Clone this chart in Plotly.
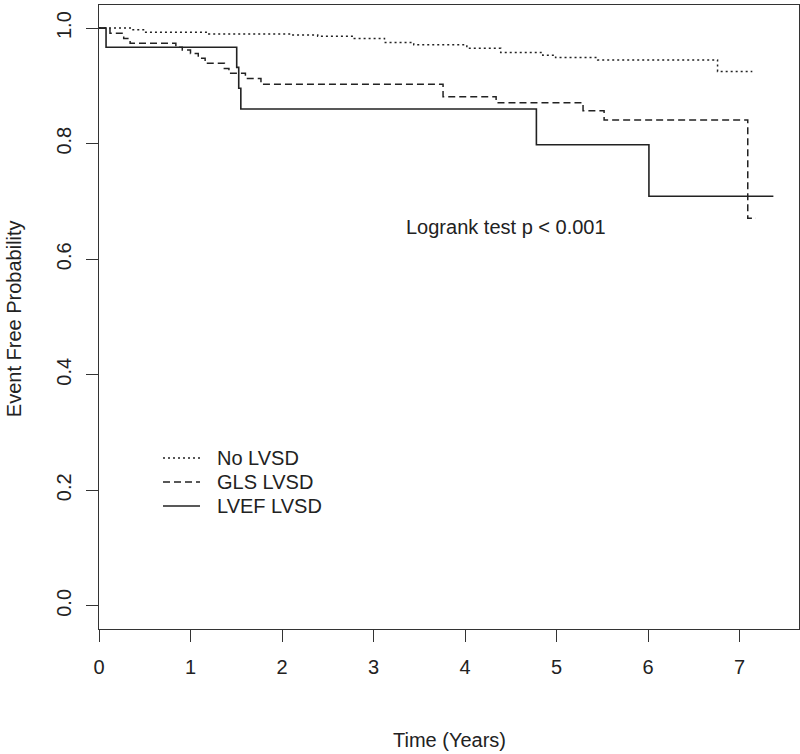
import plotly.graph_objects as go

# Kaplan-Meier step data (time in years, event-free probability)
no_lvsd_t = [0, 0.35, 0.51, 1.20, 2.09, 2.39, 2.79, 3.12, 3.44, 4.02, 4.39, 4.85, 4.99, 5.45, 6.76, 7.14]
no_lvsd_s = [1.0, 0.997, 0.993, 0.990, 0.988, 0.986, 0.982, 0.975, 0.971, 0.965, 0.958, 0.953, 0.949, 0.945, 0.925, 0.925]

gls_t = [0, 0.12, 0.27, 0.34, 0.84, 0.91, 1.00, 1.085, 1.16, 1.37, 1.42, 1.60, 1.77, 3.76, 4.34, 5.29, 5.52, 7.09, 7.18]
gls_s = [1.0, 0.991, 0.982, 0.974, 0.967, 0.962, 0.956, 0.948, 0.939, 0.930, 0.922, 0.913, 0.903, 0.881, 0.871, 0.857, 0.841, 0.671, 0.671]

lvef_t = [0, 0.077, 1.505, 1.527, 1.55, 4.78, 6.01, 7.37]
lvef_s = [1.0, 0.967, 0.932, 0.896, 0.860, 0.798, 0.709, 0.709]

series_names = ["No LVSD", "GLS LVSD", "LVEF LVSD"]
x_ticks = [0, 1, 2, 3, 4, 5, 6, 7]
y_ticks = [0.0, 0.2, 0.4, 0.6, 0.8, 1.0]
y_tick_labels = ["0.0", "0.2", "0.4", "0.6", "0.8", "1.0"]

FONT = "Liberation Sans, Arial, sans-serif"
INK = "#222222"
FS = 20
DASHES = ["2px,3px", "7px,4px", "solid"]
WIDTHS = [1.5, 1.5, 1.6]

fig = go.Figure()
for name, t, s, dash, w in zip(series_names, [no_lvsd_t, gls_t, lvef_t],
                               [no_lvsd_s, gls_s, lvef_s], DASHES, WIDTHS):
    fig.add_trace(go.Scatter(x=t, y=s, mode="lines", name=name, showlegend=False,
                             line=dict(shape="hv", color=INK, width=w, dash=dash)))

# Manual legend (R style): short line sample + label, in paper coordinates
PLOT_L, PLOT_R, PLOT_T, PLOT_B = 99, 799, 5, 629
def px_x(px):
    return (px - PLOT_L) / (PLOT_R - PLOT_L)
def px_y(py):
    return (PLOT_B - py) / (PLOT_B - PLOT_T)

legend_rows = [458, 482, 506]
shapes = []
annotations = []
for name, dash, w, row in zip(series_names, DASHES, WIDTHS, legend_rows):
    shapes.append(dict(type="line", xref="paper", yref="paper",
                       x0=px_x(163), x1=px_x(200), y0=px_y(row), y1=px_y(row),
                       line=dict(color=INK, width=w, dash=dash)))
    annotations.append(dict(text=name, x=px_x(215), y=px_y(row), xref="paper", yref="paper",
                            showarrow=False, xanchor="left", yanchor="middle",
                            font=dict(size=FS, color=INK)))

annotations += [
    dict(text="Logrank test p < 0.001", x=4.45, y=0.655, xref="x", yref="y",
         showarrow=False, xanchor="center", yanchor="middle", font=dict(size=FS, color=INK)),
    dict(text="Time (Years)", x=0.5, y=-0.178, xref="paper", yref="paper",
         showarrow=False, xanchor="center", yanchor="middle", font=dict(size=FS, color=INK)),
    dict(text="Event Free Probability", x=-0.121, y=0.497, xref="paper", yref="paper",
         showarrow=False, xanchor="center", yanchor="middle", textangle=-90,
         font=dict(size=FS, color=INK)),
]

fig.update_layout(
    width=800, height=754,
    margin=dict(l=PLOT_L, r=800 - PLOT_R, t=PLOT_T, b=754 - PLOT_B),
    paper_bgcolor="white", plot_bgcolor="white",
    font=dict(family=FONT, size=FS, color=INK),
    showlegend=False,
    shapes=shapes,
    annotations=annotations,
)

fig.update_xaxes(range=[0, 7.65], tickvals=x_ticks, ticktext=[str(v) for v in x_ticks],
                 ticks="outside", ticklen=12, tickwidth=1.3, tickcolor="#333",
                 showline=True, linecolor="#333", linewidth=1.3, mirror=True,
                 showgrid=False, zeroline=False, ticklabelstandoff=8,
                 tickfont=dict(size=FS, color=INK))
fig.update_yaxes(range=[-0.04, 1.04], tickvals=y_ticks, ticktext=y_tick_labels,
                 ticks="outside", ticklen=12, tickwidth=1.3, tickcolor="#333",
                 showline=True, linecolor="#333", linewidth=1.3, mirror=True,
                 showgrid=False, zeroline=False, tickangle=-90, ticklabelstandoff=7,
                 tickfont=dict(size=FS, color=INK))

fig.write_html("out.html", config={"displayModeBar": False},
               post_script="document.body.style.margin='0px';document.body.style.padding='0px';")
